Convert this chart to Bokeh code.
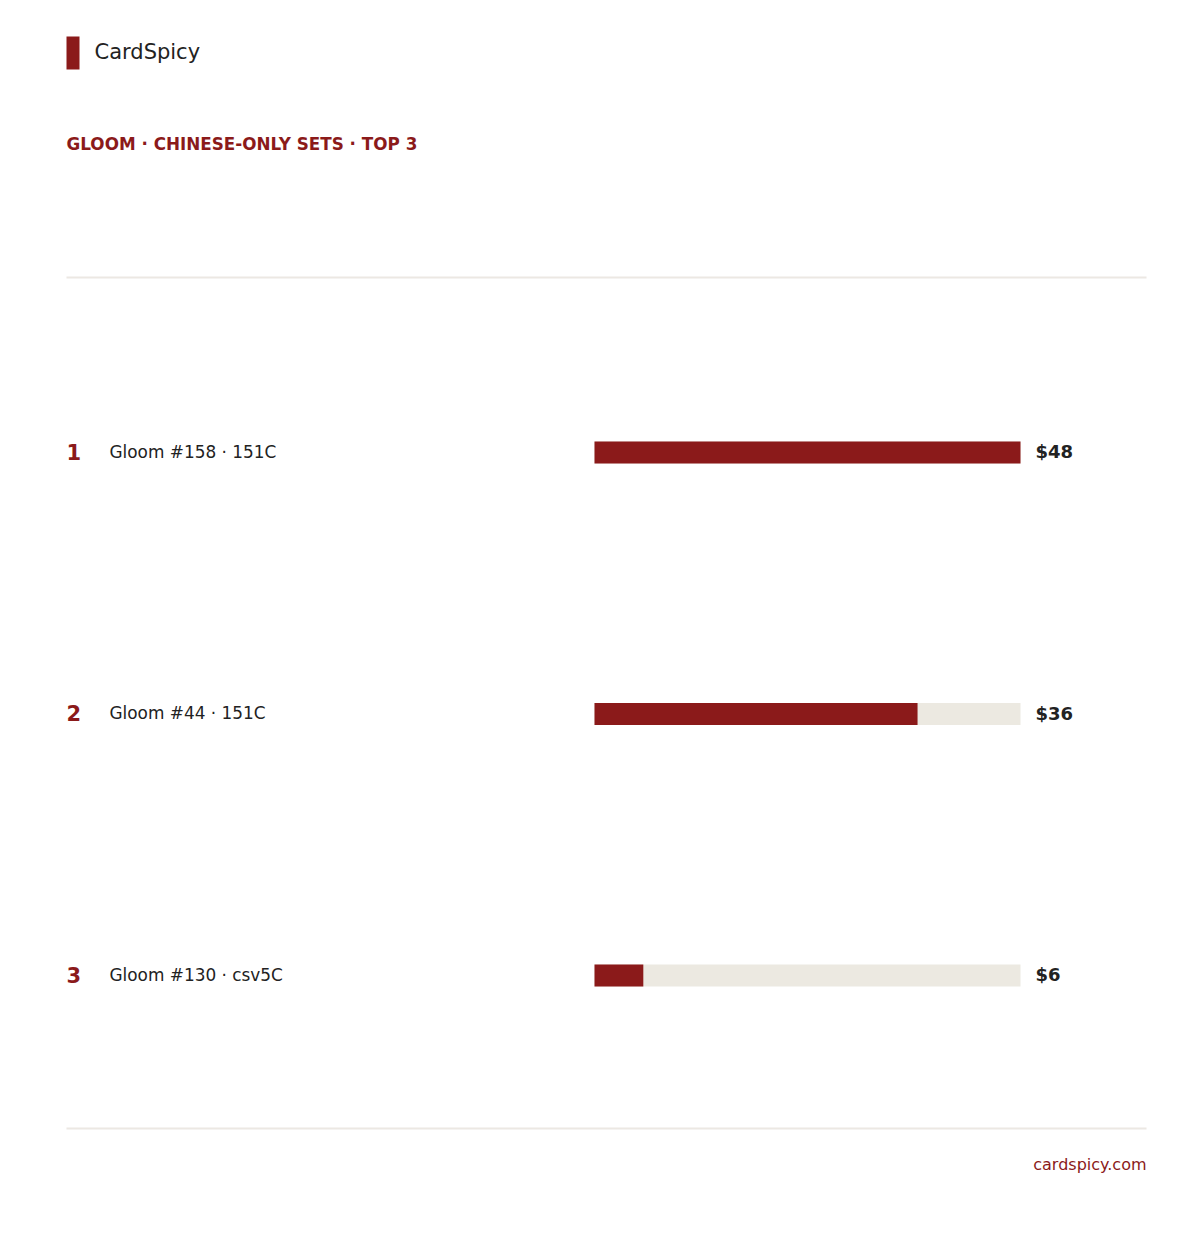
from bokeh.plotting import figure
from bokeh.models import Range1d, ColumnDataSource
from bokeh.core.properties import value
from bokeh.embed import file_html
from bokeh.resources import INLINE

# ---- data ----
ranks = [1, 2, 3]
names = ["Gloom #158 · 151C", "Gloom #44 · 151C", "Gloom #130 · csv5C"]
prices = [48.0, 36.4, 5.5]
price_labels = ["$48", "$36", "$6"]
brand = "CardSpicy"
subtitle = "GLOOM · CHINESE-ONLY SETS · TOP 3"
footer = "cardspicy.com"

RED = "#8b1a1a"
DARK = "#222222"
TRACK = "#ece9e1"
RULE = "#ece8e3"
FONT = "DejaVu Sans"

W, H = 1184, 1234
BAR_X0, BAR_X1 = 594, 1020          # canvas px of bar track
ROW1_Y, ROW_STEP = 452, 261.5        # canvas px of first row centre, row spacing
vmax = max(prices)
PXU = (BAR_X1 - BAR_X0) / vmax

def fx(px):
    return (px - BAR_X0) / PXU

def fy(py):
    return ranks[0] + (py - ROW1_Y) / ROW_STEP

p = figure(width=W, height=H, output_backend="svg", toolbar_location=None,
           x_range=Range1d(fx(0), fx(W)), y_range=Range1d(fy(H), fy(0)),
           min_border=0, min_border_left=0, min_border_right=0,
           min_border_top=0, min_border_bottom=0)
p.axis.visible = False
p.grid.visible = False
p.outline_line_color = None
p.background_fill_color = "white"
p.border_fill_color = "white"

bar_h = 22 / ROW_STEP
src = ColumnDataSource(dict(rank=ranks, name=names, price=prices, label=price_labels,
                            track=[vmax] * len(ranks), rank_txt=[str(r) for r in ranks]))

# track and bars
p.hbar(y="rank", left=0, right="track", height=bar_h, source=src,
       fill_color=TRACK, line_color=None)
p.hbar(y="rank", left=0, right="price", height=bar_h, source=src,
       fill_color=RED, line_color=None)

# row texts
text_dy = -1 / ROW_STEP
p.text(x=fx(66), y="rank", text="rank_txt", source=src, text_font=value(FONT),
       text_font_size="21px", text_font_style="bold", text_color=RED,
       text_baseline="middle", text_align="left", y_offset=-1)
p.text(x=fx(109), y="rank", text="name", source=src, text_font=value(FONT),
       text_font_size="16.9px", text_color=DARK,
       text_baseline="middle", text_align="left", y_offset=-1)
p.text(x=fx(1035), y="rank", text="label", source=src, text_font=value(FONT),
       text_font_size="18px", text_font_style="bold", text_color=DARK,
       text_baseline="middle", text_align="left", y_offset=-1)

# header
p.quad(left=[fx(66)], right=[fx(79)], top=[fy(36)], bottom=[fy(69)],
       fill_color=RED, line_color=None)
p.text(x=[fx(94)], y=[fy(51)], text=[brand], text_font=value(FONT),
       text_font_size="21px", text_color=DARK, text_baseline="middle")
p.text(x=[fx(66)], y=[fy(143)], text=[subtitle], text_font=value(FONT),
       text_font_size="16.8px", text_font_style="bold", text_color=RED,
       text_baseline="middle")

# rules
p.segment(x0=[fx(66), fx(66)], x1=[fx(1146), fx(1146)], y0=[fy(277), fy(1128)],
          y1=[fy(277), fy(1128)], line_color=RULE, line_width=2)

# footer
p.text(x=[fx(1146)], y=[fy(1164)], text=[footer], text_font=value(FONT),
       text_font_size="16px", text_color=RED, text_baseline="middle", text_align="right")

open("out.html", "w").write(file_html(p, INLINE))
